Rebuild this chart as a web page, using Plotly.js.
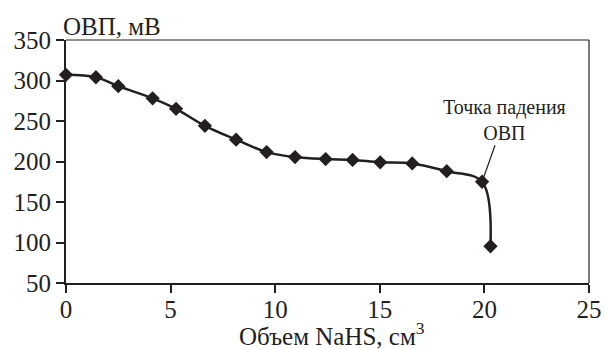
<!DOCTYPE html>
<html>
<head>
<meta charset="utf-8">
<script src="https://cdn.plot.ly/plotly-3.0.1.min.js"></script>
<style>html,body{margin:0;padding:0;background:#fff;}#chart{width:605px;height:349px;}</style>
</head>
<body>
<div id="chart"></div>
<script>
// Volume of NaHS, cm^3
const volume = [0, 1.43, 2.5, 4.14, 5.26, 6.64, 8.13, 9.59, 10.95, 12.41, 13.7, 15.02, 16.55, 18.2, 19.89, 20.29];
// ORP, mV
const orp = [307, 304, 293, 278, 265, 244, 227, 211.6, 205.5, 203, 202, 199, 197.6, 188, 175, 95.4];
const xTicks = [0, 5, 10, 15, 20, 25];
const yTicks = [50, 100, 150, 200, 250, 300, 350];
const dropIndex = 14;

const ink = '#231f20';
const fontFam = 'Liberation Serif, Times New Roman, serif';
const W = 605, H = 349, M = {l: 66, r: 16, t: 40, b: 66};
const plotH = H - M.t - M.b;

const trace = {
  x: volume, y: orp, type: 'scatter', mode: 'lines+markers',
  line: {shape: 'spline', smoothing: 1, color: ink, width: 2.5},
  marker: {symbol: 'diamond', size: 11, color: ink},
  cliponaxis: false, hoverinfo: 'skip'
};

const layout = {
  width: W, height: H,
  margin: M,
  paper_bgcolor: '#fff', plot_bgcolor: '#fff',
  showlegend: false,
  font: {family: fontFam, color: ink, size: 24},
  xaxis: {
    range: [0, 25], tickvals: xTicks, ticktext: xTicks.map(String),
    showgrid: false, zeroline: false, showline: true, linewidth: 2, linecolor: ink,
    ticks: 'outside', ticklen: 8, tickwidth: 2, tickcolor: ink, ticklabelstandoff: -5,
    tickfont: {size: 25, family: fontFam, color: ink}
  },
  yaxis: {
    range: [50, 350], tickvals: yTicks, ticktext: yTicks.map(String),
    showgrid: false, zeroline: false, showline: true, linewidth: 2, linecolor: ink,
    ticks: 'outside', ticklen: 8, tickwidth: 2, tickcolor: ink,
    tickfont: {size: 25, family: fontFam, color: ink}
  },
  shapes: [
    {type: 'line', xref: 'paper', yref: 'paper', x0: 0, x1: 1, y0: 1, y1: 1, line: {color: ink, width: 1.2}},
    {type: 'line', xref: 'paper', yref: 'paper', x0: 1, x1: 1, y0: 0, y1: 1, line: {color: ink, width: 1.2}}
  ],
  annotations: [
    {text: 'ОВП, мВ', xref: 'paper', yref: 'paper', x: 0, y: 1, xanchor: 'left', yanchor: 'bottom',
     xshift: -5, yshift: -2, showarrow: false, font: {size: 25, family: fontFam, color: ink}},
    {text: 'Объем NaHS, см<sup>3</sup>', xref: 'paper', yref: 'paper', x: 0.5, y: -M.b / plotH,
     xanchor: 'center', yanchor: 'bottom', xshift: 4, yshift: -3, showarrow: false,
     font: {size: 25, family: fontFam, color: ink}},
    {text: 'Точка падения<br>ОВП', x: volume[dropIndex], y: orp[dropIndex], xref: 'x', yref: 'y',
     showarrow: true, arrowhead: 0, arrowwidth: 1.2, arrowcolor: ink, standoff: 4,
     ax: 22, ay: -62, font: {size: 20, family: fontFam, color: ink}, align: 'center'}
  ]
};

Plotly.newPlot('chart', [trace], layout, {staticPlot: true, displayModeBar: false});
</script>
</body>
</html>
